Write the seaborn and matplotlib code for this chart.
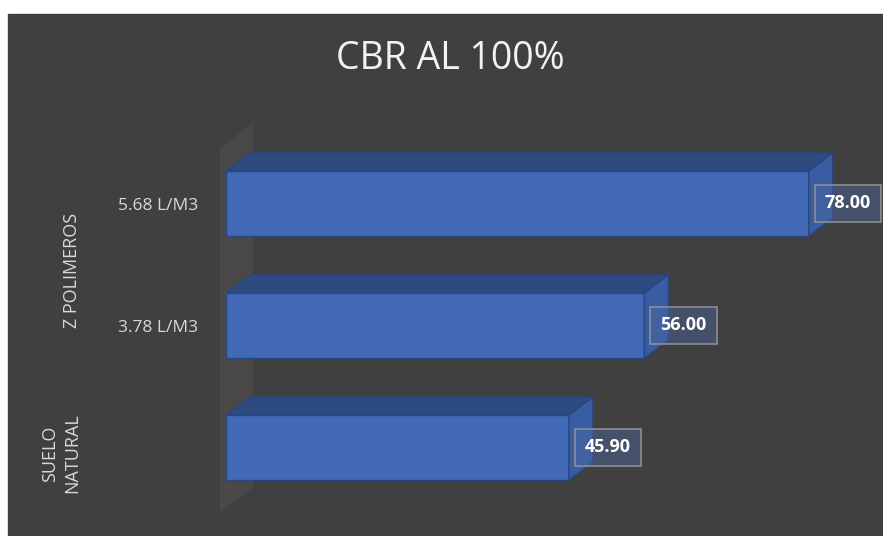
import numpy as np
import pandas as pd
import matplotlib
matplotlib.use("Agg")
import matplotlib.pyplot as plt
from matplotlib.patches import Polygon, Rectangle
from matplotlib.transforms import blended_transform_factory
import seaborn as sns

# datos CBR al 100%
claves = ["5.68 L/M3", "3.78 L/M3", "SUELO NATURAL"]
dosis = ["5.68 L/M3", "3.78 L/M3", ""]
cbr = [78.00, 56.00, 45.90]
grupos = ["Z POLIMEROS", "SUELO\nNATURAL"]
grupo_idx = [[0, 1], [2]]

df = pd.DataFrame({"clave": claves, "cbr": cbr})

sns.set_theme(style="dark")
plt.rcParams["font.family"] = ["Open Sans", "DejaVu Sans"]

fondo = "#404040"
frente = "#4169b6"
techo = "#2e4b80"
lado = "#385da3"
borde = "#2a4680"
texto = "#d9d9d9"

fig = plt.figure(figsize=(8.83, 5.36), dpi=100, facecolor="white")
fig.patches.append(Rectangle((8 / 883, 0), 1, 1 - 14 / 536, transform=fig.transFigure,
                             color=fondo, zorder=-10))
ax = fig.add_axes([226 / 883, 27.5 / 536, 635 / 883, 366 / 536])

sns.barplot(data=df, y="clave", x="cbr", order=claves, orient="h", color=frente,
            width=0.533, saturation=1, edgecolor=borde, linewidth=1, ax=ax, zorder=3)
ax.set_facecolor("none")
ax.set_xlim(0, 85)
ax.set_ylim(2.5, -0.5)

# profundidad del efecto 3D (en unidades de datos)
dx = 24 / 7.47
dy = 18 / 122

# pared del fondo
pared = Polygon([(-0.8, 2.53), (-0.8, -0.455), (-0.8 + 4.4, -0.655), (-0.8 + 4.4, 2.33)],
                closed=True, fc="#4a4848", ec="none", zorder=1, clip_on=False)
ax.add_patch(pared)

for p, v in zip(list(ax.patches)[:len(cbr)], cbr):
    x0, y0 = p.get_x(), p.get_y()
    w, h = p.get_width(), p.get_height()
    sup = Polygon([(x0, y0), (x0 + w, y0), (x0 + w + dx, y0 - dy), (x0 + dx, y0 - dy)],
                  closed=True, fc=techo, ec=borde, lw=1, zorder=3, clip_on=False)
    der = Polygon([(x0 + w, y0), (x0 + w + dx, y0 - dy), (x0 + w + dx, y0 + h - dy), (x0 + w, y0 + h)],
                  closed=True, fc=lado, ec=borde, lw=1, zorder=3, clip_on=False)
    ax.add_patch(sup)
    ax.add_patch(der)
    ax.annotate(f"{v:.2f}", xy=(x0 + w, y0 + h / 2), xytext=(11.5, 0), textcoords="offset points",
                ha="left", va="center", color="white", fontsize=13, fontweight="bold", zorder=5,
                bbox=dict(boxstyle="square,pad=0.55", fc=(0.3, 0.4, 0.62, 0.45),
                          ec="#8c8f96", lw=1.2))

ax.set_yticks(range(len(claves)))
ax.set_yticklabels(dosis, color=texto, fontsize=12.5)
ax.tick_params(axis="y", length=0, pad=20)
ax.set_xticks([])
ax.set_xlabel("")
ax.set_ylabel("")
for s in ax.spines.values():
    s.set_visible(False)
ax.grid(False)

# etiquetas de grupo
tr = blended_transform_factory(fig.transFigure, ax.transData)
for g, idx in zip(grupos, grupo_idx):
    ax.text(81 / 883, np.mean(idx) + 0.05, g, transform=tr, rotation=90, ha="right", va="center",
            multialignment="center", color=texto, fontsize=13, linespacing=1.3)

fig.text(450 / 883, 1 - 59 / 536, "CBR AL 100%", ha="center", va="center",
         color="#f2f2f2", fontsize=27)

fig.savefig("out.png", dpi=100, facecolor=fig.get_facecolor())
